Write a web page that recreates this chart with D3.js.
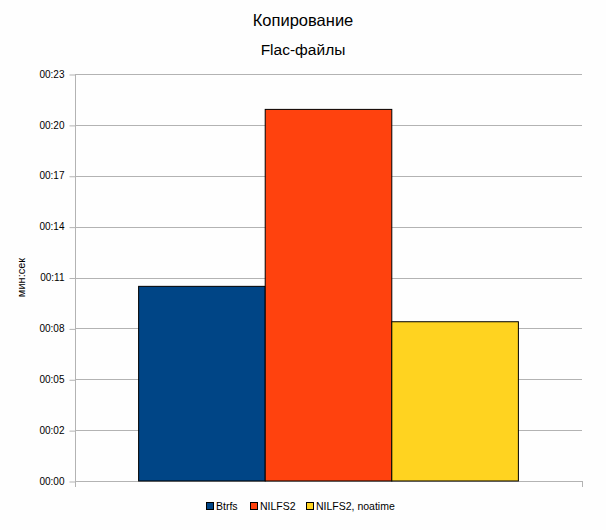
<!DOCTYPE html>
<html>
<head>
<meta charset="utf-8">
<script src="https://cdn.jsdelivr.net/npm/d3@7"></script>
<style>
  body { margin: 0; background: #fefefe; }
  text { font-family: "Liberation Sans", Arial, sans-serif; fill: #000; }
</style>
</head>
<body>
<div id="chart"></div>
<script>
// chart data
const series = ["Btrfs", "NILFS2", "NILFS2, noatime"];
const seconds = [11, 21, 9];
const colors = ["#004586", "#ff420e", "#ffd320"];
const tickLabels = ["00:00", "00:02", "00:05", "00:08", "00:11", "00:14", "00:17", "00:20", "00:23"];
const yMax = 23;

const width = 606;
const height = 530;
const margins = { top: 74, right: 24, bottom: 49, left: 75 };
const plotW = width - margins.left - margins.right;
const plotH = height - margins.top - margins.bottom;

const svg = d3.select("#chart")
    .append("svg")
    .attr("width", width)
    .attr("height", height);

svg.append("rect")
    .attr("width", width)
    .attr("height", height)
    .attr("fill", "#fefefe");

const chartGroup = svg.append("g")
    .attr("transform", `translate(${margins.left}, ${margins.top})`);

// scales
const yScale = d3.scaleLinear()
    .domain([0, yMax])
    .range([plotH, 0]);

const xOuter = d3.scaleBand()
    .domain(["cat"])
    .range([0, plotW])
    .paddingOuter(0.1675)
    .paddingInner(0);

const xInner = d3.scaleBand()
    .domain(series)
    .range([xOuter("cat"), xOuter("cat") + xOuter.bandwidth()]);

// tick values: equal steps, labels truncated like the original
const tickValues = tickLabels.map((d, i) => i * yMax / (tickLabels.length - 1));

// gridlines
chartGroup.append("g")
    .selectAll("line")
    .data(tickValues)
    .enter()
    .append("line")
    .attr("x1", 0)
    .attr("x2", plotW)
    .attr("y1", d => Math.round(yScale(d)) + 0.5)
    .attr("y2", d => Math.round(yScale(d)) + 0.5)
    .attr("stroke", "#b3b3b3");

// y axis
const leftAxis = d3.axisLeft(yScale)
    .tickValues(tickValues)
    .tickFormat((d, i) => tickLabels[i])
    .tickSize(6)
    .tickPadding(5);

const yAxis = chartGroup.append("g")
    .attr("transform", "translate(0.5, 0)")
    .call(leftAxis);

yAxis.select(".domain").remove();
yAxis.selectAll(".tick line")
    .attr("stroke", "#b3b3b3")
    .attr("transform", "translate(0, 0.5)");
yAxis.selectAll(".tick text")
    .attr("font-size", "10px")
    .attr("font-family", "Liberation Sans, Arial, sans-serif")
    .attr("fill", "#000");

// vertical axis line, runs a little below zero
chartGroup.append("line")
    .attr("x1", 0.5)
    .attr("x2", 0.5)
    .attr("y1", 0)
    .attr("y2", plotH + 6)
    .attr("stroke", "#b3b3b3");

// bottom tick marks at category edges
chartGroup.append("g")
    .selectAll("line")
    .data([0, plotW])
    .enter()
    .append("line")
    .attr("x1", d => Math.round(d) + 0.5)
    .attr("x2", d => Math.round(d) + 0.5)
    .attr("y1", plotH)
    .attr("y2", plotH + 6)
    .attr("stroke", "#b3b3b3");

// bars
chartGroup.append("g")
    .selectAll("rect")
    .data(series)
    .enter()
    .append("rect")
    .attr("x", d => xInner(d))
    .attr("y", (d, i) => yScale(seconds[i]))
    .attr("width", xInner.bandwidth())
    .attr("height", (d, i) => plotH - yScale(seconds[i]))
    .attr("fill", (d, i) => colors[i])
    .attr("stroke", "#000")
    .attr("stroke-width", 1);

// titles
svg.append("text")
    .attr("x", width / 2)
    .attr("y", 26)
    .attr("text-anchor", "middle")
    .attr("font-size", "16.5px")
    .text("Копирование");

svg.append("text")
    .attr("x", width / 2)
    .attr("y", 55)
    .attr("text-anchor", "middle")
    .attr("font-size", "15.5px")
    .text("Flac-файлы");

// y label
svg.append("text")
    .attr("transform", `translate(25, ${margins.top + plotH / 2}) rotate(-90)`)
    .attr("text-anchor", "middle")
    .attr("font-size", "11px")
    .text("мин:сек");

// legend
const legendX = [206, 250, 306];
const legend = svg.append("g")
    .selectAll("g")
    .data(series)
    .enter()
    .append("g")
    .attr("transform", (d, i) => `translate(${legendX[i]}, 502)`);

legend.append("rect")
    .attr("width", 7)
    .attr("height", 7)
    .attr("x", 0.5)
    .attr("y", 0.5)
    .attr("fill", (d, i) => colors[i])
    .attr("stroke", "#000");

legend.append("text")
    .attr("x", 10)
    .attr("y", 8)
    .attr("font-size", "10.5px")
    .text(d => d);
</script>
</body>
</html>
